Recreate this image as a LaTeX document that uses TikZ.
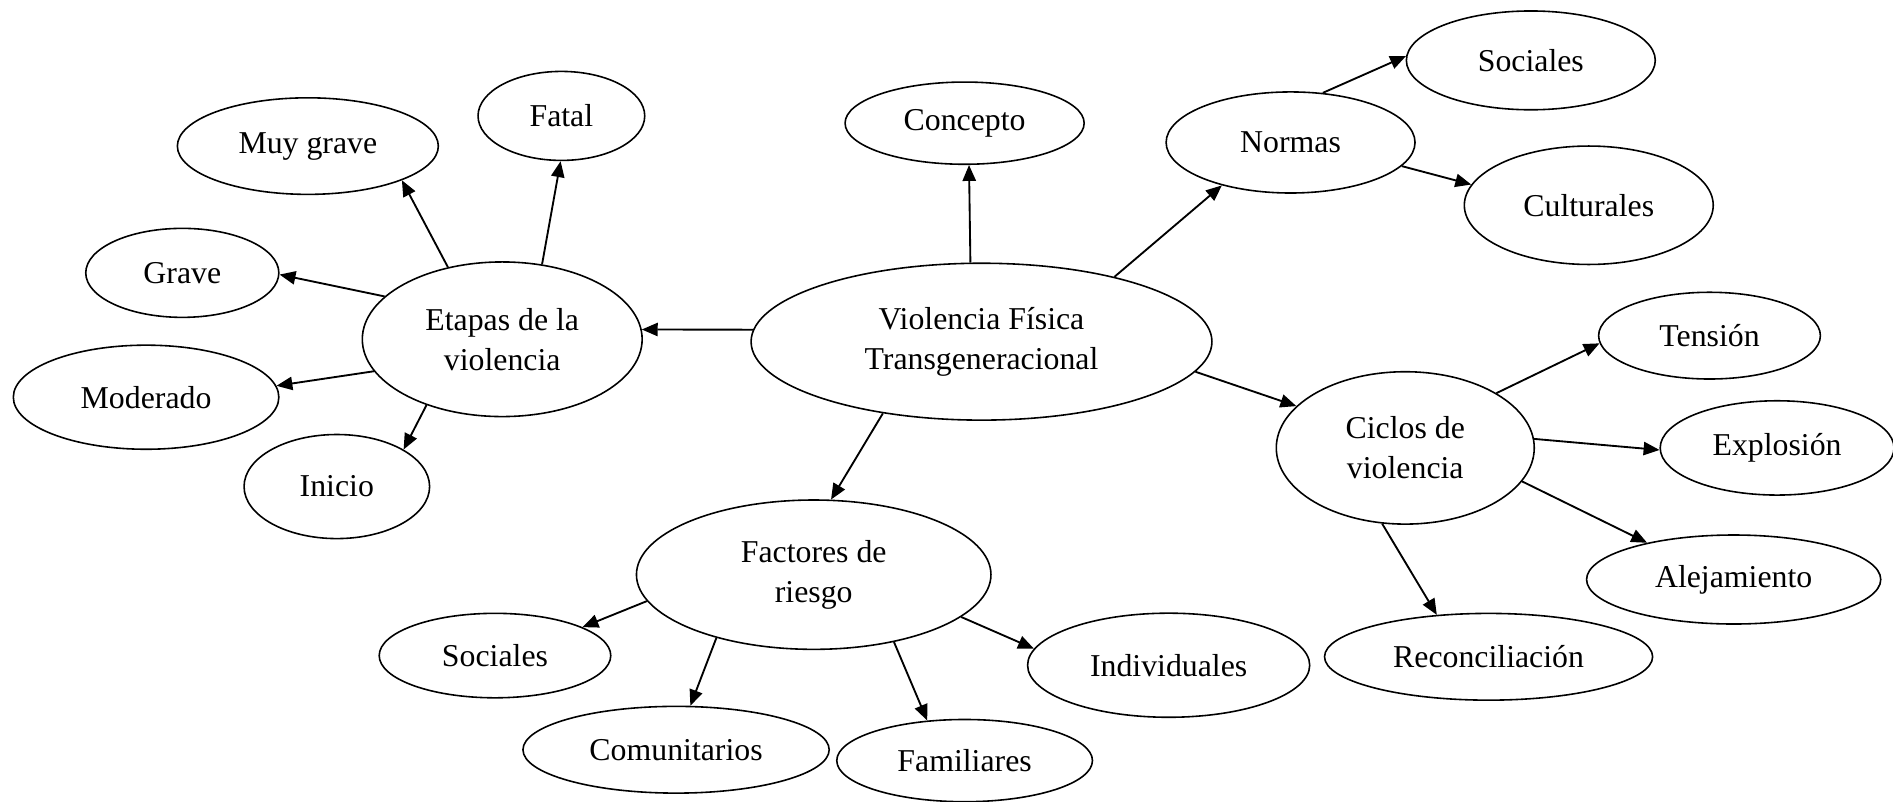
\documentclass[tikz,border=0pt]{standalone}
\usepackage{fontspec}
\setmainfont{Liberation Serif}
\usetikzlibrary{shapes.geometric,arrows.meta}

\tikzset{
    elip/.style={draw, ellipse, line width=0.6pt, inner sep=0pt, align=center,
        font=\fontsize{12}{15}\selectfont},
    arr/.style={-{Triangle[length=6pt,width=5pt]}, line width=0.7pt}
}

\begin{document}
\begin{tikzpicture}[x=0.016cm, y=-0.016cm]
    \useasboundingbox (0,0) rectangle (1568,664);
    % centro
    \node (VF) [elip, minimum width=6.11cm, minimum height=2.08cm] at (813,283) {Violencia Física\\Transgeneracional};
    \node (CO) [elip, minimum width=3.17cm, minimum height=1.09cm] at (799,102) {Concepto};
    % etapas
    \node (ET) [elip, minimum width=3.71cm, minimum height=2.05cm] at (416,281) {Etapas de la\\violencia};
    \node (EF) [elip, minimum width=2.21cm, minimum height=1.18cm] at (465,96) {Fatal};
    \node (EM) [elip, minimum width=3.46cm, minimum height=1.28cm] at (255,121) {Muy grave};
    \node (EG) [elip, minimum width=2.56cm, minimum height=1.18cm] at (151,226) {Grave};
    \node (EO) [elip, minimum width=3.52cm, minimum height=1.38cm] at (121,329) {Moderado};
    \node (EI) [elip, minimum width=2.46cm, minimum height=1.38cm] at (279,403) {Inicio};
    % normas
    \node (NO) [elip, minimum width=3.30cm, minimum height=1.34cm] at (1069,118) {Normas};
    \node (NS) [elip, minimum width=3.30cm, minimum height=1.31cm] at (1268,50) {Sociales};
    \node (NC) [elip, minimum width=3.30cm, minimum height=1.57cm] at (1316,170) {Culturales};
    % ciclos
    \node (CV) [elip, minimum width=3.42cm, minimum height=2.02cm] at (1164,371) {Ciclos de\\violencia};
    \node (CT) [elip, minimum width=2.94cm, minimum height=1.15cm] at (1416,278) {Tensión};
    \node (CE) [elip, minimum width=3.10cm, minimum height=1.25cm] at (1472,371) {Explosión};
    \node (CA) [elip, minimum width=3.90cm, minimum height=1.18cm] at (1436,480) {Alejamiento};
    \node (CR) [elip, minimum width=4.35cm, minimum height=1.15cm] at (1233,544) {Reconciliación};
    % factores
    \node (FR) [elip, minimum width=4.70cm, minimum height=1.98cm] at (674,476) {Factores de\\riesgo};
    \node (FS) [elip, minimum width=3.07cm, minimum height=1.12cm] at (410,543) {Sociales};
    \node (FC) [elip, minimum width=4.06cm, minimum height=1.15cm] at (560,621) {Comunitarios};
    \node (FF) [elip, minimum width=3.39cm, minimum height=1.09cm] at (799,630) {Familiares};
    \node (FI) [elip, minimum width=3.74cm, minimum height=1.38cm] at (968,551) {Individuales};
    \path[arr]
        (VF.177) edge (ET.4)
        (VF.98) edge (CO.-84)
        (VF.26) edge (NO.-148)
        (VF.-8) edge (CV.159)
        (VF.-144) edge (FR.77)
        (ET.62) edge (EF.-91)
        (ET.127) edge (EM.-20)
        (ET.160) edge (EG.-1)
        (ET.-166) edge (EO.5)
        (ET.-139) edge (EI.29)
        (NO.57) edge (NS.178)
        (NO.-12) edge (NC.170)
        (CV.31) edge (CT.-176)
        (CV.4) edge (CE.-179)
        (CV.-16) edge (CA.157)
        (CV.-107) edge (CR.141)
        (FR.-171) edge (FS.18)
        (FR.-147) edge (FC.72)
        (FR.-40) edge (FF.133)
        (FR.-16) edge (FI.173);
\end{tikzpicture}
\end{document}
